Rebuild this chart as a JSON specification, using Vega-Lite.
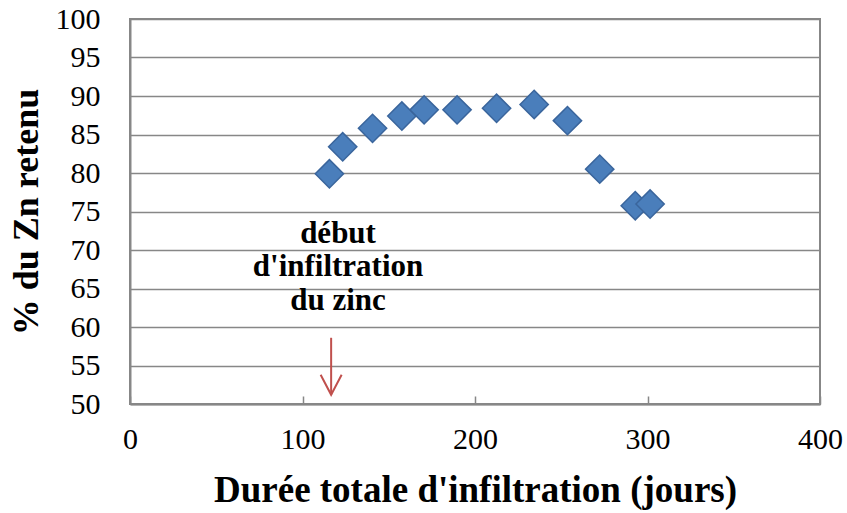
{
  "$schema": "https://vega.github.io/schema/vega-lite/v6.json",
  "width": 690,
  "height": 385,
  "autosize": {"type": "none"},
  "padding": {"left": 130, "top": 19, "right": 27, "bottom": 109},
  "background": "white",
  "config": {
    "view": {"stroke": "#878787", "strokeWidth": 2},
    "font": "'Liberation Serif', 'Times New Roman', serif"
  },
  "datasets": {
    "pts": [
      {"jours": 115.6, "zn": 79.9},
      {"jours": 123.3, "zn": 83.4},
      {"jours": 140.6, "zn": 85.8},
      {"jours": 157.6, "zn": 87.4},
      {"jours": 170.5, "zn": 88.2},
      {"jours": 189.6, "zn": 88.2},
      {"jours": 212.5, "zn": 88.4},
      {"jours": 234.3, "zn": 88.9},
      {"jours": 253.6, "zn": 86.8},
      {"jours": 272.3, "zn": 80.5},
      {"jours": 292.9, "zn": 75.75},
      {"jours": 301.5, "zn": 75.97}
    ],
    "arrow": [{"jours": 116.6, "zn": 58.6, "zn2": 51.2}],
    "head": [{"jours": 116.6, "zn": 51.2}],
    "label": [{"jours": 120.6, "zn": 70.95, "t": ["début", "d'infiltration", "du zinc"]}]
  },
  "encoding": {
    "x": {
      "field": "jours", "type": "quantitative",
      "scale": {"domain": [0, 400], "nice": false},
      "axis": {
        "values": [0, 100, 200, 300, 400],
        "title": "Durée totale d'infiltration (jours)",
        "titleFont": "'Liberation Serif', 'Times New Roman', serif", "titleFontSize": 37, "titleFontWeight": "bold", "titleColor": "black",
        "titlePadding": 18,
        "labelFont": "'Liberation Serif', 'Times New Roman', serif", "labelFontSize": 30, "labelColor": "black",
        "labelPadding": 28, "labelOverlap": false, "labelFlush": false,
        "grid": false,
        "domainColor": "#878787", "domainWidth": 2,
        "ticks": true, "tickSize": -8, "tickColor": "#878787", "tickWidth": 1.5
      }
    },
    "y": {
      "field": "zn", "type": "quantitative",
      "scale": {"domain": [50, 100], "nice": false, "zero": false},
      "axis": {
        "values": [50, 55, 60, 65, 70, 75, 80, 85, 90, 95, 100],
        "title": "% du Zn retenu",
        "titleFont": "'Liberation Serif', 'Times New Roman', serif", "titleFontSize": 36, "titleFontWeight": "bold", "titleColor": "black",
        "titlePadding": 10,
        "labelFont": "'Liberation Serif', 'Times New Roman', serif", "labelFontSize": 30, "labelColor": "black",
        "labelPadding": 30, "labelOverlap": false, "labelFlush": false,
        "ticks": false, "tickSize": 0,
        "grid": true, "gridColor": "#878787", "gridWidth": 1.5,
        "domainColor": "#878787", "domainWidth": 2
      }
    }
  },
  "layer": [
    {
      "data": {"name": "pts"},
      "mark": {"type": "point", "shape": "diamond", "filled": true, "fill": "#4a7ebb", "stroke": "#3a659c", "strokeWidth": 1.5, "size": 800, "opacity": 1}
    },
    {
      "data": {"name": "arrow"},
      "mark": {"type": "rule", "color": "#c0504d", "strokeWidth": 2},
      "encoding": {
        "y2": {"field": "zn2"}
      }
    },
    {
      "data": {"name": "head"},
      "mark": {"type": "point", "shape": "M-1,-1.9L0,0L1,-1.9", "filled": false, "stroke": "#c0504d", "strokeWidth": 2, "size": 441, "opacity": 1}
    },
    {
      "data": {"name": "label"},
      "mark": {"type": "text", "font": "'Liberation Serif', 'Times New Roman', serif", "fontSize": 31, "fontWeight": "bold", "color": "black", "align": "center", "baseline": "alphabetic", "lineHeight": 33.5},
      "encoding": {
        "text": {"field": "t"}
      }
    }
  ]
}
